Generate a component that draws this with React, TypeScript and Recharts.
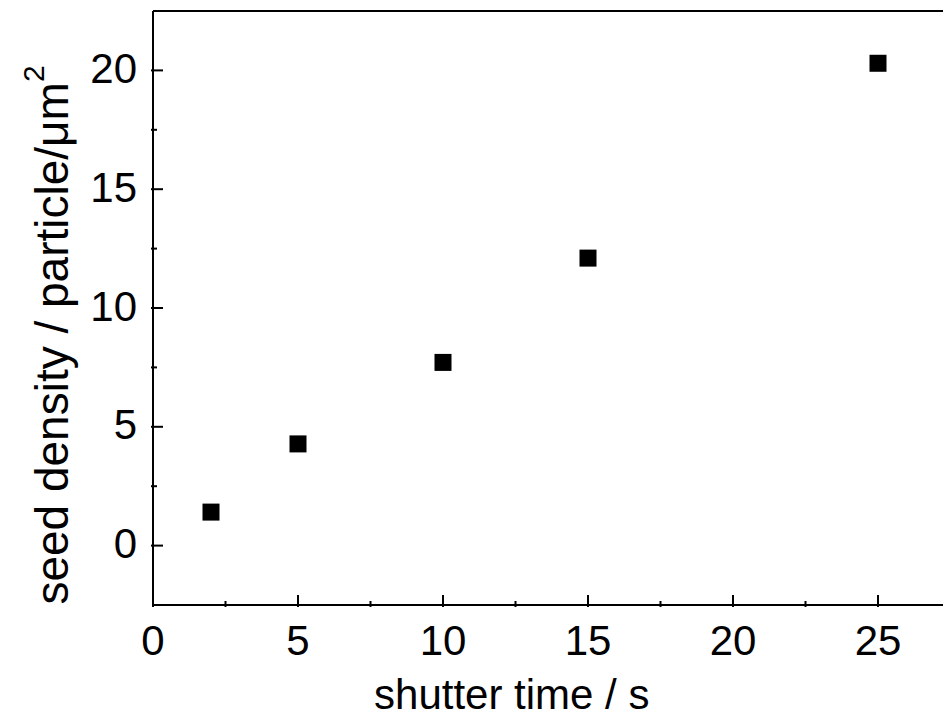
import { ScatterChart, Scatter, XAxis, YAxis, Label } from "recharts";

const shutterTime = [2, 5, 10, 15, 25];
const seedDensity = [1.41, 4.28, 7.71, 12.1, 20.3];

const xTicks = [0, 2.5, 5, 7.5, 10, 12.5, 15, 17.5, 20, 22.5, 25];
const yTicks = [0, 2.5, 5, 7.5, 10, 12.5, 15, 17.5, 20];

const data = shutterTime.map((t, i) => ({ t, d: seedDensity[i] }));

const FONT = "'Liberation Sans', Arial, sans-serif";
const FS = 42;
const MAJOR = 12;
const MINOR = 6;

const isMajor = (v: number) => v % 5 === 0;

// ticks point inward, labels only on major ticks
function BottomTick({ x, y, payload }: any) {
  const major = isMajor(payload.value);
  return (
    <g>
      <line x1={x} x2={x} y1={y} y2={y - (major ? MAJOR : MINOR)} stroke="#000" strokeWidth={2} />
      {major && (
        <text x={x} y={y + 48} textAnchor="middle" fontSize={FS} fontFamily={FONT} fill="#000">
          {payload.value}
        </text>
      )}
    </g>
  );
}

function TopTick({ x, y, payload }: any) {
  const major = isMajor(payload.value);
  return <line x1={x} x2={x} y1={y} y2={y + (major ? MAJOR : MINOR)} stroke="#000" strokeWidth={2} />;
}

function LeftTick({ x, y, payload }: any) {
  const major = isMajor(payload.value);
  return (
    <g>
      <line x1={x} x2={x + (major ? MAJOR : MINOR)} y1={y} y2={y} stroke="#000" strokeWidth={2} />
      {major && (
        <text x={x - 14} y={y + 12.5} textAnchor="end" fontSize={FS} fontFamily={FONT} fill="#000">
          {payload.value}
        </text>
      )}
    </g>
  );
}

function RightTick({ x, y, payload }: any) {
  const major = isMajor(payload.value);
  return <line x1={x} x2={x - (major ? MAJOR : MINOR)} y1={y} y2={y} stroke="#000" strokeWidth={2} />;
}

function YTitle({ viewBox }: any) {
  const cx = 68;
  const cy = viewBox.y + viewBox.height / 2 + 27;
  return (
    <text
      x={cx}
      y={cy}
      transform={`rotate(-90 ${cx} ${cy})`}
      textAnchor="middle"
      fontSize={46}
      fontFamily={FONT}
      fill="#000"
    >
      seed density / particle/μm
      <tspan fontSize={30} dy={-24}>2</tspan>
    </text>
  );
}

function Square({ cx, cy }: any) {
  return <rect x={cx - 8.5} y={cy - 8.5} width={17} height={17} fill="#000" />;
}

export default function App() {
  return (
    <div style={{ position: "fixed", left: 0, top: 0, width: 943, height: 721, overflow: "hidden", background: "#fff" }}>
      <ScatterChart width={960} height={721} margin={{ top: 0, right: 9.5, bottom: 0, left: 0 }}>
        <XAxis
          xAxisId="b"
          dataKey="t"
          type="number"
          domain={[0, 27.5]}
          ticks={xTicks}
          orientation="bottom"
          height={116}
          tickSize={0}
          tickLine={false}
          tick={<BottomTick />}
          interval={0}
          axisLine={{ stroke: "#000", strokeWidth: 2 }}
        >
          <Label
            value="shutter time / s"
            position="insideTop"
            dx={-40}
            offset={74}
            fontSize={FS}
            fontFamily={FONT}
            fill="#000"
          />
        </XAxis>
        <XAxis
          xAxisId="t"
          dataKey="t"
          type="number"
          domain={[0, 27.5]}
          ticks={xTicks}
          orientation="top"
          height={11}
          tickSize={0}
          tickLine={false}
          tick={<TopTick />}
          interval={0}
          axisLine={{ stroke: "#000", strokeWidth: 2 }}
        />
        <YAxis
          yAxisId="l"
          dataKey="d"
          type="number"
          domain={[-2.5, 22.5]}
          ticks={yTicks}
          orientation="left"
          width={153}
          tickSize={0}
          tickLine={false}
          tick={<LeftTick />}
          interval={0}
          axisLine={{ stroke: "#000", strokeWidth: 2 }}
        >
          <Label content={<YTitle />} />
        </YAxis>
        <YAxis
          yAxisId="r"
          dataKey="d"
          type="number"
          domain={[-2.5, 22.5]}
          ticks={yTicks}
          orientation="right"
          width={0}
          tickSize={0}
          tickLine={false}
          tick={<RightTick />}
          interval={0}
          axisLine={{ stroke: "#000", strokeWidth: 2 }}
        />
        <Scatter
          data={data}
          xAxisId="b"
          yAxisId="l"
          fill="#000"
          shape={<Square />}
          isAnimationActive={false}
        />
      </ScatterChart>
    </div>
  );
}
